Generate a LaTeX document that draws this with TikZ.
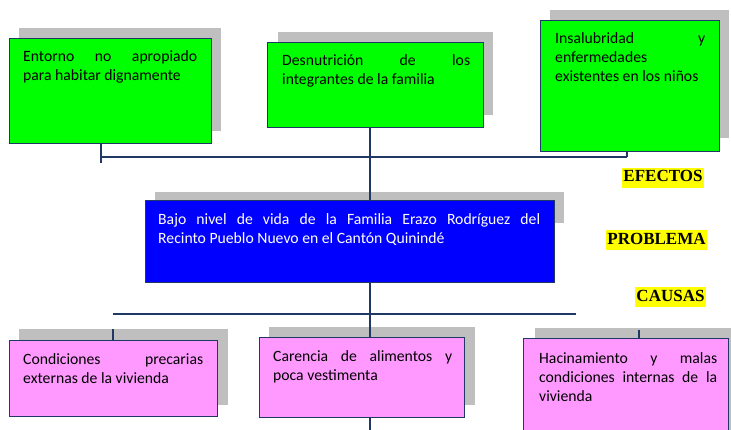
\documentclass[tikz,border=0pt]{standalone}
\usepackage{fontspec}
\setmainfont{Carlito}
\newfontfamily\labelfont{Liberation Serif}
\usetikzlibrary{calc}
\definecolor{navy}{HTML}{1F3864}
\definecolor{boxgreen}{HTML}{00FF00}
\definecolor{boxblue}{HTML}{0000FF}
\definecolor{boxpink}{HTML}{FF99FF}
\definecolor{shade}{HTML}{BFBFBF}
\definecolor{hilite}{HTML}{FFFF00}
\hyphenpenalty=10000
\exhyphenpenalty=10000
\hbadness=10000
\tikzset{
  boxbase/.style={draw=navy, line width=1.1pt, inner sep=0pt, anchor=north west},
  greenbox/.style={boxbase, fill=boxgreen},
  bluebox/.style={boxbase, fill=boxblue},
  pinkbox/.style={boxbase, fill=boxpink},
  shadowfill/.style={fill=shade, draw=none},
  conn/.style={draw=navy, line width=2.6pt},
  txt/.style={anchor=north west, inner sep=0pt, align=justify,
    font=\fontsize{15.7}{19.3}\selectfont},
  tag/.style={fill=hilite, inner xsep=1.5pt, inner ysep=2pt,
    text height=12pt, text depth=4pt,
    font=\labelfont\bfseries\fontsize{17}{20}\selectfont}
}
\begin{document}
\begin{tikzpicture}[x=1pt,y=-1pt]
\useasboundingbox (0,0) rectangle (731,430);
\clip (0,0) rectangle (731,430);
% shadows
\fill[shadowfill] (19,28) rectangle (221,131);
\fill[shadowfill] (278,32) rectangle (493,115);
\fill[shadowfill] (550,10) rectangle (729,138);
\fill[shadowfill] (155,192) rectangle (564,223);
\fill[shadowfill] (19,329) rectangle (228,405);
\fill[shadowfill] (269,327) rectangle (475,405);
\fill[shadowfill] (535,328) rectangle (745,445);
% box shapes (positions)
\path (9,38) coordinate (p1) (267,42) coordinate (p2) (540,20) coordinate (p3)
      (145,200) coordinate (pp) (9,340) coordinate (p4) (259,337) coordinate (p5)
      (523,338) coordinate (p6);
% junction coordinates
\coordinate (j1) at (101,157);
\coordinate (j3) at (627,157);
\coordinate (c2) at (370,157);
\coordinate (k0) at (370,314);
\coordinate (k4) at (113,314);
\coordinate (k6) at (576,314);
\coordinate (s4) at (113,329);
\coordinate (s6) at (639,330);
\coordinate (kend) at (370,434);
% invisible nodes for anchors first
\path node[boxbase, draw=none, minimum width=202pt, minimum height=105pt] (b1) at (p1) {}
      node[boxbase, draw=none, minimum width=216pt, minimum height=85pt] (b2) at (p2) {}
      node[boxbase, draw=none, minimum width=179pt, minimum height=131pt] (b3) at (p3) {}
      node[boxbase, draw=none, minimum width=409pt, minimum height=82pt] (bp) at (pp) {}
      node[boxbase, draw=none, minimum width=208pt, minimum height=76pt] (b4) at (p4) {}
      node[boxbase, draw=none, minimum width=205pt, minimum height=80pt] (b5) at (p5) {}
      node[boxbase, draw=none, minimum width=205pt, minimum height=110pt] (b6) at (p6) {};
% connectors
\draw[conn] (j1 |- b1.south) -- ($(j1)+(0,6)$);
\draw[conn] (j1) -- (j3);
\draw[conn] (j3 |- b3.south) -- (j3);
\draw[conn] (c2 |- b2.south) -- (c2 |- bp.north);
\draw[conn] (k0 |- bp.south) -- (k0 |- b5.north);
\draw[conn] (k4) -- (k6);
\draw[conn] (s4) -- (s4 |- b4.north);
\draw[conn] (s6) -- (s6 |- b6.north);
\draw[conn] (k0 |- b5.south) -- (kend);
% boxes
\node[greenbox, minimum width=202pt, minimum height=105pt] at (p1) {};
\node[greenbox, minimum width=216pt, minimum height=85pt] at (p2) {};
\node[greenbox, minimum width=179pt, minimum height=131pt] at (p3) {};
\node[bluebox, minimum width=409pt, minimum height=82pt] at (pp) {};
\node[pinkbox, minimum width=208pt, minimum height=76pt] at (p4) {};
\node[pinkbox, minimum width=205pt, minimum height=80pt] at (p5) {};
\node[pinkbox, minimum width=205pt, minimum height=110pt] at (p6) {};
% texts
\node[txt, text width=174pt] (t1) at ([shift={(14,12)}]b1.north west)
  {Entorno no apropiado\linebreak para habitar dignamente};
\node[txt, text width=188pt] (t2) at ([shift={(15,12)}]b2.north west)
  {Desnutrición de los\linebreak integrantes de la familia};
\node[txt, text width=150pt] (t3) at ([shift={(15,12)}]b3.north west)
  {Insalubridad y\linebreak enfermedades\newline existentes en los niños};
\node[txt, text width=382pt, text=white] (tp) at ([shift={(13,13)}]bp.north west)
  {Bajo nivel de vida de la Familia Erazo Rodríguez del\linebreak Recinto Pueblo Nuevo en el Cantón Quinindé};
\node[txt, text width=180pt] (t4) at ([shift={(14,13)}]b4.north west)
  {Condiciones precarias\linebreak externas de la vivienda};
\node[txt, text width=179pt] (t5) at ([shift={(14,13)}]b5.north west)
  {Carencia de alimentos y\linebreak poca vestimenta};
\node[txt, text width=178pt] (t6) at ([shift={(16,14)}]b6.north west)
  {Hacinamiento y malas\linebreak condiciones internas de la\linebreak vivienda};
% labels
\node[tag] (efectos) at (663,178) {EFECTOS};
\node[tag] (problema) at (656.5,240.5) {PROBLEMA};
\node[tag] (causas) at (670.5,297.5) {CAUSAS};
\end{tikzpicture}
\end{document}
